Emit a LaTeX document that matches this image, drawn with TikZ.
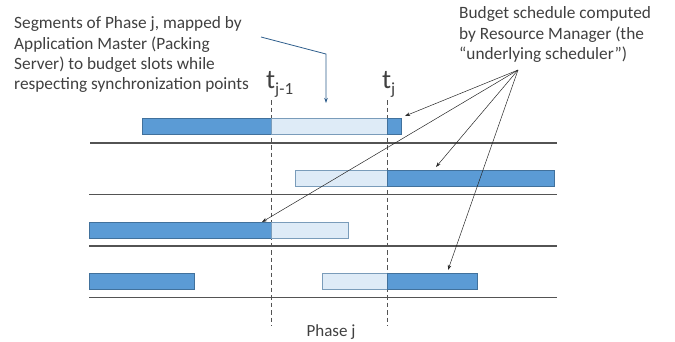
\documentclass[tikz,border=0pt]{standalone}
\usepackage{fontspec}
\setmainfont{Carlito}
\usetikzlibrary{arrows.meta}
\definecolor{barblue}{HTML}{5B9BD5}
\definecolor{barlight}{HTML}{DEEBF7}
\definecolor{baredge}{HTML}{41719C}
\definecolor{txtgray}{HTML}{404040}
\definecolor{notecol}{HTML}{2E5E8C}
\begin{document}
\begin{tikzpicture}[x=1pt,y=-1pt,
  seg/.style={rectangle, draw=baredge, line width=0.8pt, inner sep=0pt, anchor=north west, minimum height=16pt},
  busy/.style={seg, fill=barblue},
  spare/.style={seg, fill=barlight, draw=baredge!70},
  lane/.style={draw=txtgray!90, line width=1.3pt},
  sync/.style={draw=txtgray!90, line width=0.8pt, dash pattern=on 4.5pt off 3pt},
  note/.style={align=left, anchor=north west, inner sep=0pt, text=txtgray, font=\fontsize{17.3}{20.4}\selectfont},
  pointer/.style={draw=black!85, line width=0.5pt, -{Stealth[length=5pt,width=3.5pt]}},
  tlabel/.style={anchor=base west, inner sep=0pt, text=txtgray}
]
\useasboundingbox (0,0) rectangle (675,341);

% time slots (lanes)
\draw[lane] (90,143) -- (557,143);
\draw[lane] (89,194.5) -- (557,194.5);
\draw[lane] (89,246) -- (557,246);
\draw[lane] (89,297.5) -- (557,297.5);

% synchronization points
\draw[sync] (271,100) -- (271,326);
\draw[sync] (387,100) -- (387,326);

% row 1
\node[busy, minimum width=129pt] (r1a) at (142,118) {};
\node[spare, minimum width=116pt] (r1b) at (271,118) {};
\node[busy, minimum width=13.5pt] (r1c) at (387,118) {};
% row 2
\node[spare, minimum width=92pt] (r2a) at (295,170) {};
\node[busy, minimum width=167pt] (r2b) at (387,170) {};
% row 3
\node[busy, minimum width=182pt] (r3a) at (89,222) {};
\node[spare, minimum width=77pt] (r3b) at (271,222) {};
% row 4
\node[busy, minimum width=104.5pt] (r4a) at (89,272.5) {};
\node[spare, minimum width=65pt] (r4b) at (322,272.5) {};
\node[busy, minimum width=89.5pt] (r4c) at (387,272.5) {};

% time labels
\node[tlabel] (tjm) at (266,88) {{\fontsize{27}{27}\selectfont t}\raisebox{-6pt}{\fontsize{17}{17}\selectfont j-1}};
\node[tlabel] (tj) at (382,88) {{\fontsize{27}{27}\selectfont t}\raisebox{-6pt}{\fontsize{17}{17}\selectfont j}};

% phase label
\node[anchor=base, inner sep=0pt, text=txtgray, font=\fontsize{17}{17}\selectfont] (phase) at (331,336) {Phase j};

% annotations
\node[note] (segnote) at (14,16.5) {Segments of Phase j, mapped by\\Application Master (Packing\\Server) to budget slots while\\respecting synchronization points};
\node[note] (budnote) at (459,6.5) {Budget schedule computed\\by Resource Manager (the\\“underlying scheduler”)};

% pointer from the segment note
\coordinate (segfrom) at (261,37);
\coordinate (segbend) at (326,54);
\coordinate (segto) at (326,103);
\draw[draw=notecol, line width=0.8pt, -{Stealth[length=5pt,width=3.5pt]}] (segfrom) -- (segbend) -- (segto);

% pointers from the budget note
\coordinate (budfrom) at (518,70);
\coordinate (b1) at (405,116);
\coordinate (b2) at (436,167);
\coordinate (b3) at (262,222);
\coordinate (b4) at (448,270);
\draw[pointer] (budfrom) -- (b1);
\draw[pointer] (budfrom) -- (b2);
\draw[pointer] (budfrom) -- (b3);
\draw[pointer] (budfrom) -- (b4);
\end{tikzpicture}
\end{document}
